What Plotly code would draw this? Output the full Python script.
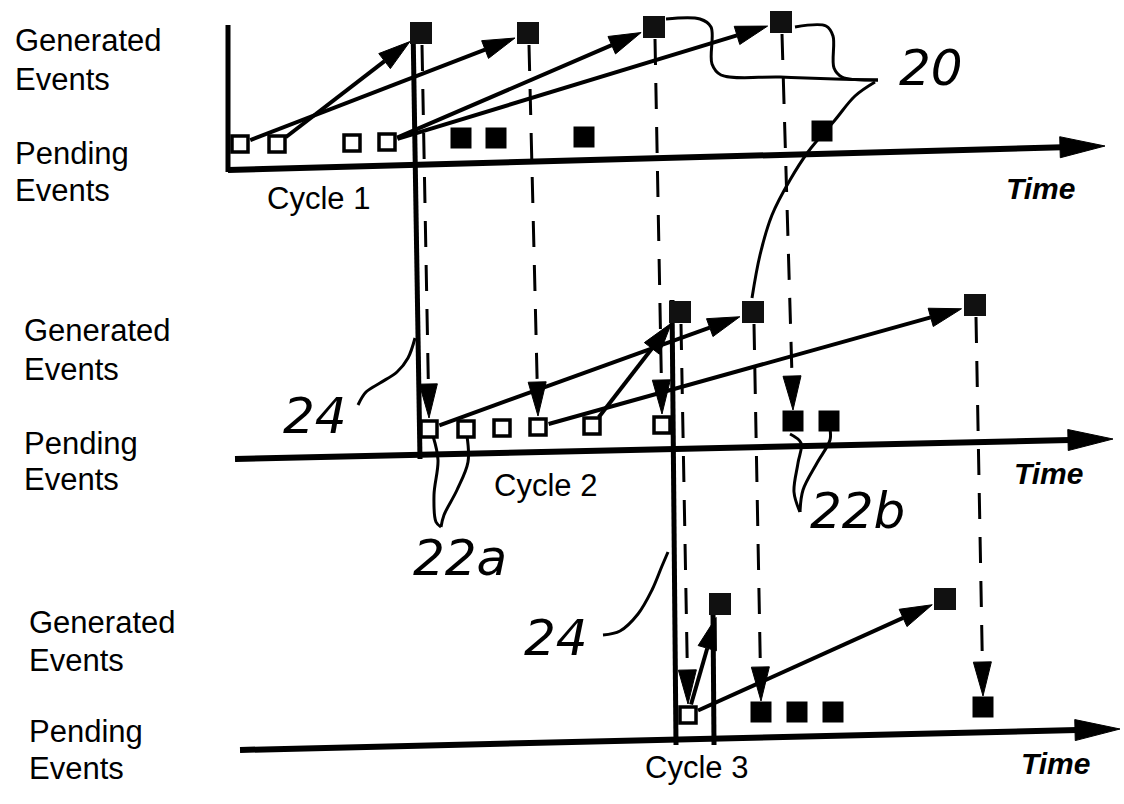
import numpy as np
import plotly.graph_objects as go

# ---------------- data: event positions (diagram units) ----------------
# Cycle 1
c1_pend_open_x = [240, 277, 352, 387]
c1_pend_open_y = [144, 144, 143, 142]
c1_pend_fill_x = [461, 496, 584, 822]
c1_pend_fill_y = [138, 138, 137, 131]
c1_gen_x = [421, 528, 654, 781]
c1_gen_y = [33, 33, 27, 22]
# Cycle 2
c2_pend_open_x = [429, 466, 502, 538, 592, 662]
c2_pend_open_y = [429, 429, 428, 427, 426, 425]
c2_pend_fill_x = [793, 829]
c2_pend_fill_y = [421, 421]
c2_gen_x = [680, 753, 975]
c2_gen_y = [312, 312, 305]
# Cycle 3
c3_pend_open_x = [688]
c3_pend_open_y = [715]
c3_pend_fill_x = [761, 797, 833, 983]
c3_pend_fill_y = [712, 712, 712, 707]
c3_gen_x = [720, 945]
c3_gen_y = [604, 599]

# pending(open index) -> generated(index) within a cycle
c1_links = [(0, 1), (1, 0), (3, 2), (3, 3)]
c2_links = [(0, 1), (3, 2), (4, 0)]
c3_links = [(0, 0), (0, 1)]
# generated(index) -> next cycle pending (kind, index)
c1_to_c2 = [(0, "open", 0), (1, "open", 3), (2, "open", 5), (3, "fill", 0)]
c2_to_c3 = [(0, "open", 0), (1, "fill", 0), (2, "fill", 3)]

# axes
time_axes = [(228, 170, 1105, 146), (235, 459, 1113, 439), (240, 750, 1120, 729)]
cycle_bounds = [(228, 25, 228, 172), (413, 25, 420, 459), (672, 300, 676, 745), (713, 612, 714, 745)]

row_labels_x = [13, 22, 27]
row_label_y = [(40, 79, 153, 190), (330, 369, 443, 479), (622, 660, 731, 768)]
cycle_labels = ["Cycle 1", "Cycle 2", "Cycle 3"]
cycle_label_pos = [(318, 198), (545, 485), (696, 767)]
time_label_pos = [(1040, 188), (1048, 473), (1055, 763)]

# hand-drawn leaders
lead_20a = [(666, 19), (700, 19), (711, 27), (712, 64), (721, 75), (780, 77), (835, 79), (878, 80)]
lead_20b = [(795, 27), (826, 26), (833, 36), (834, 68), (842, 77), (878, 80)]
lead_20c = [(875, 82), (855, 96), (835, 120), (808, 152), (790, 180), (772, 215), (760, 255), (752, 298)]
lead_24a = [(358, 405), (366, 392), (380, 383), (397, 372), (408, 358), (415, 338)]
lead_24b = [(603, 635), (620, 631), (638, 614), (652, 590), (662, 566), (668, 552)]
lead_22a1 = [(433, 436), (438, 460), (434, 495), (436, 522), (441, 527)]
lead_22a2 = [(467, 436), (468, 462), (457, 490), (444, 515), (441, 527)]
lead_22b1 = [(790, 434), (801, 443), (798, 463), (794, 492), (800, 512)]
lead_22b2 = [(830, 429), (830, 440), (817, 463), (803, 490), (800, 512)]
hand_labels = ["20", "24", "24", "22a", "22b"]
hand_pos = [(931, 68), (315, 416), (556, 638), (460, 558), (857, 511)]

# ---------------- figure ----------------
fig = go.Figure()
K = "black"


def add_line(xs, ys, width=4, dash=None, shape="linear"):
    fig.add_trace(go.Scatter(x=xs, y=ys, mode="lines",
                             line=dict(color=K, width=width, dash=dash, shape=shape, smoothing=1.0),
                             hoverinfo="skip"))


def head(tip, start, L=30, W=18):
    t = np.array(tip, float)
    s = np.array(start, float)
    u = (t - s) / np.linalg.norm(t - s)
    p = np.array([-u[1], u[0]])
    b = t - u * L
    pts = [t, b + p * W / 2, b - p * W / 2, t]
    fig.add_trace(go.Scatter(x=[q[0] for q in pts], y=[q[1] for q in pts], mode="lines",
                             fill="toself", fillcolor=K, line=dict(color=K, width=1),
                             hoverinfo="skip"))
    return b


def arrow(start, tip, width=4, dash=None, L=30, W=18):
    b = head(tip, start, L, W)
    add_line([start[0], b[0]], [start[1], b[1]], width=width, dash=dash)


for (x0, y0, x1, y1) in time_axes:
    b = head((x1, y1), (x0, y0), L=45, W=21)
    add_line([x0, b[0] + 2], [y0, b[1]], width=6)
for (x0, y0, x1, y1) in cycle_bounds:
    add_line([x0, x1], [y0, y1], width=5)


def solid_links(ox, oy, gx, gy, links):
    for (i, j) in links:
        s = np.array([ox[i], oy[i]], float)
        g = np.array([gx[j], gy[j]], float)
        u = (g - s) / np.linalg.norm(g - s)
        arrow(tuple(s + u * 11), tuple(g - u * 14), width=4, L=32, W=19)


solid_links(c1_pend_open_x, c1_pend_open_y, c1_gen_x, c1_gen_y, c1_links)
solid_links(c2_pend_open_x, c2_pend_open_y, c2_gen_x, c2_gen_y, c2_links)
solid_links(c3_pend_open_x, c3_pend_open_y, c3_gen_x, c3_gen_y, c3_links)


def dashed_links(gx, gy, ox, oy, fx, fy, links):
    for (j, kind, i) in links:
        tx, ty = (ox[i], oy[i]) if kind == "open" else (fx[i], fy[i])
        arrow((gx[j] + 1, gy[j] + 12), (tx, ty - 11), width=3, dash="26px,18px", L=34, W=18)


dashed_links(c1_gen_x, c1_gen_y, c2_pend_open_x, c2_pend_open_y, c2_pend_fill_x, c2_pend_fill_y, c1_to_c2)
dashed_links(c2_gen_x, c2_gen_y, c3_pend_open_x, c3_pend_open_y, c3_pend_fill_x, c3_pend_fill_y, c2_to_c3)

for pts in [lead_20a, lead_20b, lead_20c, lead_24a, lead_24b, lead_22a1, lead_22a2, lead_22b1, lead_22b2]:
    add_line([p[0] for p in pts], [p[1] for p in pts], width=3, shape="spline")

for (xs, ys) in [(c1_pend_open_x, c1_pend_open_y), (c2_pend_open_x, c2_pend_open_y),
                 (c3_pend_open_x, c3_pend_open_y)]:
    fig.add_trace(go.Scatter(x=xs, y=ys, mode="markers",
                             marker=dict(symbol="square", size=16, color="white",
                                         line=dict(color=K, width=3.5)), hoverinfo="skip"))
for (xs, ys) in [(c1_pend_fill_x, c1_pend_fill_y), (c2_pend_fill_x, c2_pend_fill_y),
                 (c3_pend_fill_x, c3_pend_fill_y)]:
    fig.add_trace(go.Scatter(x=xs, y=ys, mode="markers",
                             marker=dict(symbol="square", size=21, color=K, line=dict(width=0)),
                             hoverinfo="skip"))
for (xs, ys) in [(c1_gen_x, c1_gen_y), (c2_gen_x, c2_gen_y), (c3_gen_x, c3_gen_y)]:
    fig.add_trace(go.Scatter(x=xs, y=ys, mode="markers",
                             marker=dict(symbol="square", size=22, color="#111", line=dict(width=0)),
                             hoverinfo="skip"))

SANS = "Liberation Sans, Arial, Helvetica, sans-serif"
ann = []
for k in range(3):
    words = ["Generated", "Events", "Pending", "Events"]
    for w, yy in zip(words, row_label_y[k]):
        ann.append(dict(x=row_labels_x[k], y=yy, text=w, xanchor="left", yanchor="middle",
                        showarrow=False, font=dict(family=SANS, size=31, color=K)))
    ann.append(dict(x=cycle_label_pos[k][0], y=cycle_label_pos[k][1], text=cycle_labels[k],
                    xanchor="center", yanchor="middle", showarrow=False,
                    font=dict(family=SANS, size=31, color=K)))
    ann.append(dict(x=time_label_pos[k][0], y=time_label_pos[k][1], text="<b><i>Time</i></b>",
                    xanchor="center", yanchor="middle", showarrow=False,
                    font=dict(family=SANS, size=30, color=K)))
for t, (x, y) in zip(hand_labels, hand_pos):
    ann.append(dict(x=x, y=y, text="<i>" + t + "</i>", xanchor="center", yanchor="middle",
                    showarrow=False, font=dict(family="DejaVu Sans, sans-serif", size=50, color=K)))

fig.update_layout(
    width=1124, height=804, margin=dict(l=0, r=0, t=0, b=0),
    paper_bgcolor="white", plot_bgcolor="white", showlegend=False,
    xaxis=dict(range=[0, 1124], visible=False, fixedrange=True),
    yaxis=dict(range=[804, 0], visible=False, fixedrange=True),
    annotations=ann,
)
fig.write_html("out.html", config={"displayModeBar": False},
               post_script="document.body.style.margin='0px';document.body.style.overflow='hidden';")
